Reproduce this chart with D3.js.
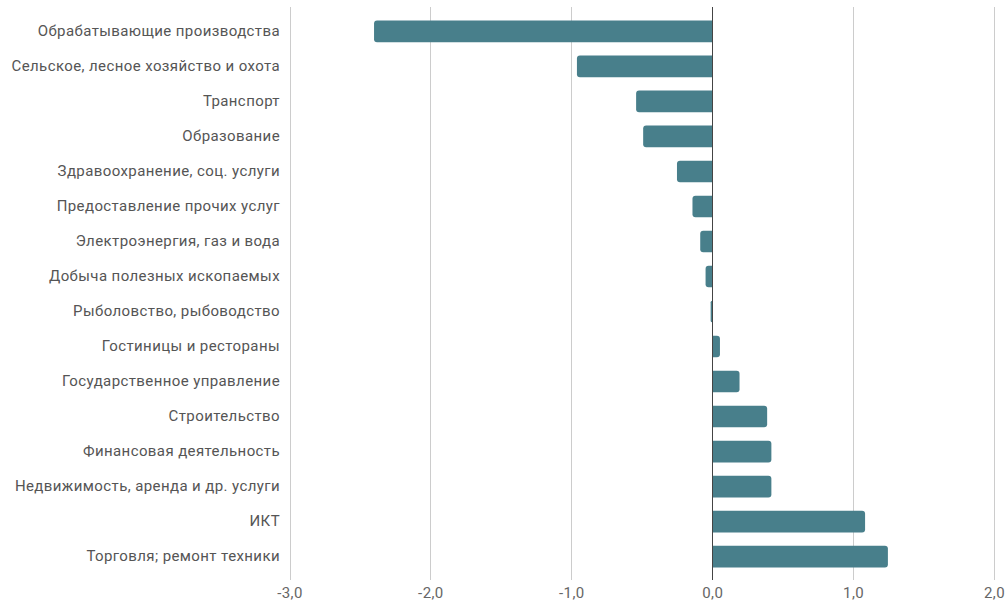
<!DOCTYPE html>
<html>
<head>
<meta charset="utf-8">
<script src="https://cdn.jsdelivr.net/npm/d3@7"></script>
<style>
  html, body { margin: 0; padding: 0; background: #fff; }
  svg { display: block; font-family: Roboto, "Noto Sans", sans-serif; }
</style>
</head>
<body>
<svg id="chart" width="1008" height="604"></svg>
<script>
// Industries, top to bottom
const categories = [
  "Обрабатывающие производства",
  "Сельское, лесное хозяйство и охота",
  "Транспорт",
  "Образование",
  "Здравоохранение, соц. услуги",
  "Предоставление прочих услуг",
  "Электроэнергия, газ и вода",
  "Добыча полезных ископаемых",
  "Рыболовство, рыбоводство",
  "Гостиницы и рестораны",
  "Государственное управление",
  "Строительство",
  "Финансовая деятельность",
  "Недвижимость, аренда и др. услуги",
  "ИКТ",
  "Торговля; ремонт техники"
];
const values = [-2.40, -0.96, -0.54, -0.49, -0.25, -0.14, -0.085, -0.047, -0.011,
                0.055, 0.194, 0.39, 0.42, 0.42, 1.085, 1.247];
const tickValues = [-3, -2, -1, 0, 1, 2];

const svg = d3.select("#chart");
const plotLeft = 289.5, plotRight = 994, plotTop = 7, plotBottom = 580;

const x = d3.scaleLinear().domain([-3, 2]).range([plotLeft, plotRight]);
const y = d3.scaleBand().domain(categories).range([plotTop + 1, plotBottom])
  .paddingInner(0.38).paddingOuter(0.36);

// vertical grid
svg.append("g").selectAll("line").data(tickValues.filter(d => d !== 0)).join("line")
  .attr("x1", d => Math.round(x(d)) + 0.5).attr("x2", d => Math.round(x(d)) + 0.5)
  .attr("y1", plotTop).attr("y2", plotBottom)
  .attr("stroke", "#cccccc").attr("stroke-width", 1);

// bars with rounded outer end
const r = 3;
svg.append("g").selectAll("path").data(values).join("path")
  .attr("fill", "#487f8b")
  .attr("d", (d, i) => {
    const y0 = y(categories[i]), h = y.bandwidth();
    const x0 = x(0), x1 = x(d);
    const w = Math.abs(x1 - x0);
    const rr = Math.min(r, w);
    if (d < 0) {
      return `M${x0},${y0} L${x1 + rr},${y0} Q${x1},${y0} ${x1},${y0 + rr} L${x1},${y0 + h - rr} Q${x1},${y0 + h} ${x1 + rr},${y0 + h} L${x0},${y0 + h} Z`;
    } else {
      return `M${x0},${y0} L${x1 - rr},${y0} Q${x1},${y0} ${x1},${y0 + rr} L${x1},${y0 + h - rr} Q${x1},${y0 + h} ${x1 - rr},${y0 + h} L${x0},${y0 + h} Z`;
    }
  });

// zero baseline
svg.append("line")
  .attr("x1", Math.round(x(0)) + 0.5).attr("x2", Math.round(x(0)) + 0.5)
  .attr("y1", plotTop).attr("y2", plotBottom)
  .attr("stroke", "#444").attr("stroke-width", 1);

// category labels
const yAxis = d3.axisLeft(y).tickSize(0).tickPadding(0);
const gy = svg.append("g").attr("transform", "translate(280,0)").call(yAxis);
gy.select(".domain").remove();
gy.selectAll("text").attr("font-size", 15).attr("fill", "#555")
  .attr("letter-spacing", "0.4px")
  .attr("font-family", "Roboto, 'Noto Sans', sans-serif");

// value axis labels
const fmt = d => d3.format(".1f")(d).replace(".", ",").replace("−", "-");
const xAxis = d3.axisBottom(x).tickValues(tickValues).tickSize(0).tickPadding(0).tickFormat(fmt);
const gx = svg.append("g").attr("transform", "translate(0,587)").call(xAxis);
gx.select(".domain").remove();
gx.selectAll("text").attr("font-size", 15).attr("fill", "#666")
  .attr("letter-spacing", "0.4px")
  .attr("font-family", "Roboto, 'Noto Sans', sans-serif");
</script>
</body>
</html>
